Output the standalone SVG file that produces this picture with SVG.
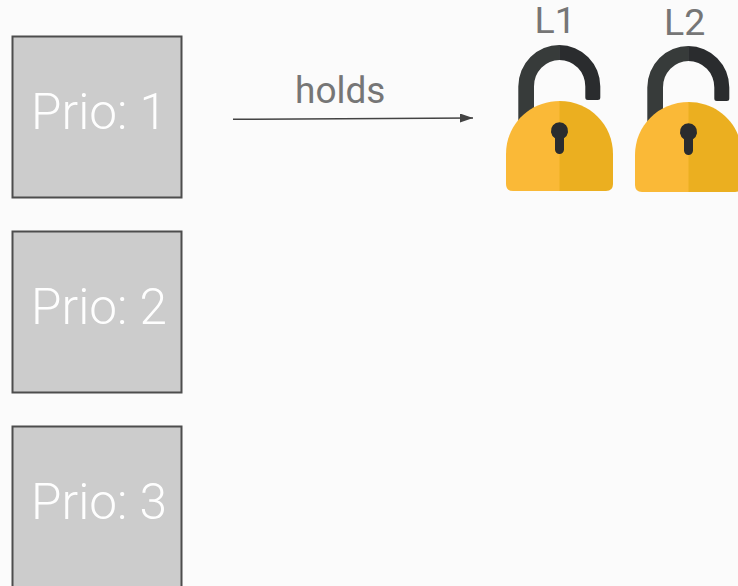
<svg xmlns="http://www.w3.org/2000/svg" width="738" height="586" viewBox="0 0 738 586">
<style>
.box{fill:#cccccc;stroke:#4d4d4d;stroke-width:2}
.p{font-family:Roboto,"Liberation Sans",sans-serif;font-weight:300;font-size:49.5px;fill:#ffffff;opacity:.99}
.t{font-family:Roboto,"Liberation Sans",sans-serif;font-weight:400;fill:#757575;opacity:.99}
.conn{stroke:#434343;stroke-width:1.5;fill:none}
</style>
<defs>
<marker id="arrow" markerUnits="userSpaceOnUse" markerWidth="14" markerHeight="10" refX="13" refY="4.500" orient="auto">
<path d="M0 0L13 4.500L0 9Z" fill="#434343"/>
</marker>
<g id="lock">
<path d="M518.300 122V86.500A41 41.500 0 0 1 559.800 45V60A25.500 26 0 0 0 534 86.500V122Z" fill="#373b3a"/>
<path d="M559.300 45A41 41.500 0 0 1 600.300 86.500V97.500Q600.300 100 597.800 100H587.800Q585.300 100 585.300 97.500V86.500A26 26 0 0 0 559.300 60Z" fill="#2a2c2e"/>
<path d="M560 101C529 101 506 125 506 154V184Q506 191 513 191H560Z" fill="#fab937"/>
<path d="M559.500 101C590 101 613 125 613 154V184Q613 191 606 191H559.500Z" fill="#ebaf20"/>
<path d="M555 138.200A8.600 8.600 0 1 1 564 138.200V149.500A4.500 4.500 0 0 1 555 149.500Z" fill="#2a2c2e"/>
</g>
</defs>
<rect width="738" height="586" fill="#fbfbfb"/>
<g id="node-prio1"><rect class="box" x="12.500" y="36.500" width="169" height="161"/><text class="p" x="31" y="128.500">Prio: 1</text></g>
<g id="node-prio2"><rect class="box" x="12.500" y="231.500" width="169" height="161"/><text class="p" x="31" y="323.500">Prio: 2</text></g>
<g id="node-prio3"><rect class="box" x="12.500" y="426.500" width="169" height="161"/><text class="p" x="31" y="518.500">Prio: 3</text></g>
<g id="connectors"><path class="conn" d="M233 119.300L473 118" marker-end="url(#arrow)"/></g>
<g id="label-holds"><text class="t" x="295" y="103" font-size="37">holds</text></g>
<g id="node-l1"><text class="t" x="534.500" y="33" font-size="37.500">L1</text><use href="#lock"/></g>
<g id="node-l2"><text class="t" x="664" y="35" font-size="37.500">L2</text><use href="#lock" transform="translate(129 1)"/></g>
</svg>
